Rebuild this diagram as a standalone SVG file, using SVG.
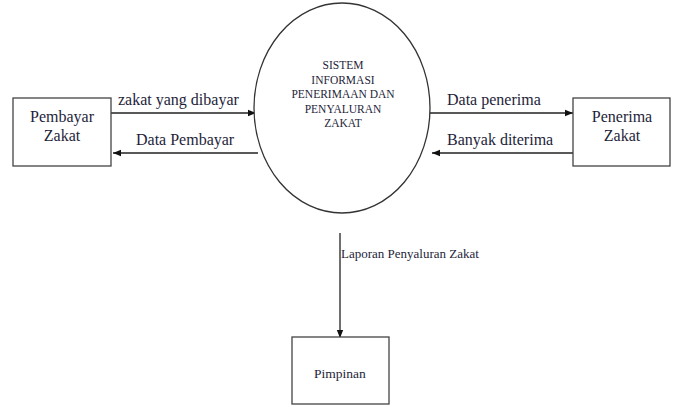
<svg xmlns="http://www.w3.org/2000/svg" width="678" height="407" viewBox="0 0 678 407">
<style>
.box{fill:#fff;stroke:#444;stroke-width:1.3}
.ln{stroke:#222;stroke-width:1.3;fill:none;marker-end:url(#ah)}
text{font-family:"Liberation Serif","Times New Roman",serif;fill:#1e1e3a}
.bl{font-size:16px;text-anchor:middle}
.fl{font-size:16px}
.pl{font-size:11.5px;text-anchor:middle}
</style>
<defs>
<marker id="ah" viewBox="0 0 10 10" refX="10" refY="5" markerWidth="8" markerHeight="8" markerUnits="userSpaceOnUse" orient="auto">
<path d="M0,1 L10,5 L0,9 Z" fill="#111"/>
</marker>
</defs>
<rect width="678" height="407" fill="#fff"/>
<g id="connectors">
<line class="ln" x1="111" y1="113" x2="256" y2="113"/>
<line class="ln" x1="258" y1="153" x2="113" y2="153"/>
<line class="ln" x1="430" y1="113" x2="573" y2="113"/>
<line class="ln" x1="576" y1="153" x2="432" y2="153"/>
<line class="ln" x1="340" y1="233" x2="340" y2="338"/>
<text class="fl" x="118" y="105">zakat yang dibayar</text>
<text class="fl" x="136" y="145">Data Pembayar</text>
<text class="fl" x="447" y="105">Data penerima</text>
<text class="fl" x="447" y="145">Banyak diterima</text>
<text x="341" y="258" font-size="13">Laporan Penyaluran Zakat</text>
</g>
<g id="pembayar">
<rect class="box" x="13" y="98" width="98" height="68"/>
<text class="bl" x="62" y="122">Pembayar</text>
<text class="bl" x="62" y="141">Zakat</text>
</g>
<g id="sistem">
<ellipse cx="342" cy="108" rx="88" ry="105" fill="#fff" stroke="#333" stroke-width="1.3"/>
<text class="pl" x="343" y="69">SISTEM</text>
<text class="pl" x="343" y="84">INFORMASI</text>
<text class="pl" x="343" y="98">PENERIMAAN DAN</text>
<text class="pl" x="343" y="113">PENYALURAN</text>
<text class="pl" x="343" y="127">ZAKAT</text>
</g>
<g id="penerima">
<rect class="box" x="573" y="98" width="97" height="68"/>
<text class="bl" x="622" y="122">Penerima</text>
<text class="bl" x="622" y="141">Zakat</text>
</g>
<g id="pimpinan">
<rect class="box" x="292" y="337" width="97" height="67"/>
<text x="340" y="378" font-size="13.5" text-anchor="middle">Pimpinan</text>
</g>
</svg>
